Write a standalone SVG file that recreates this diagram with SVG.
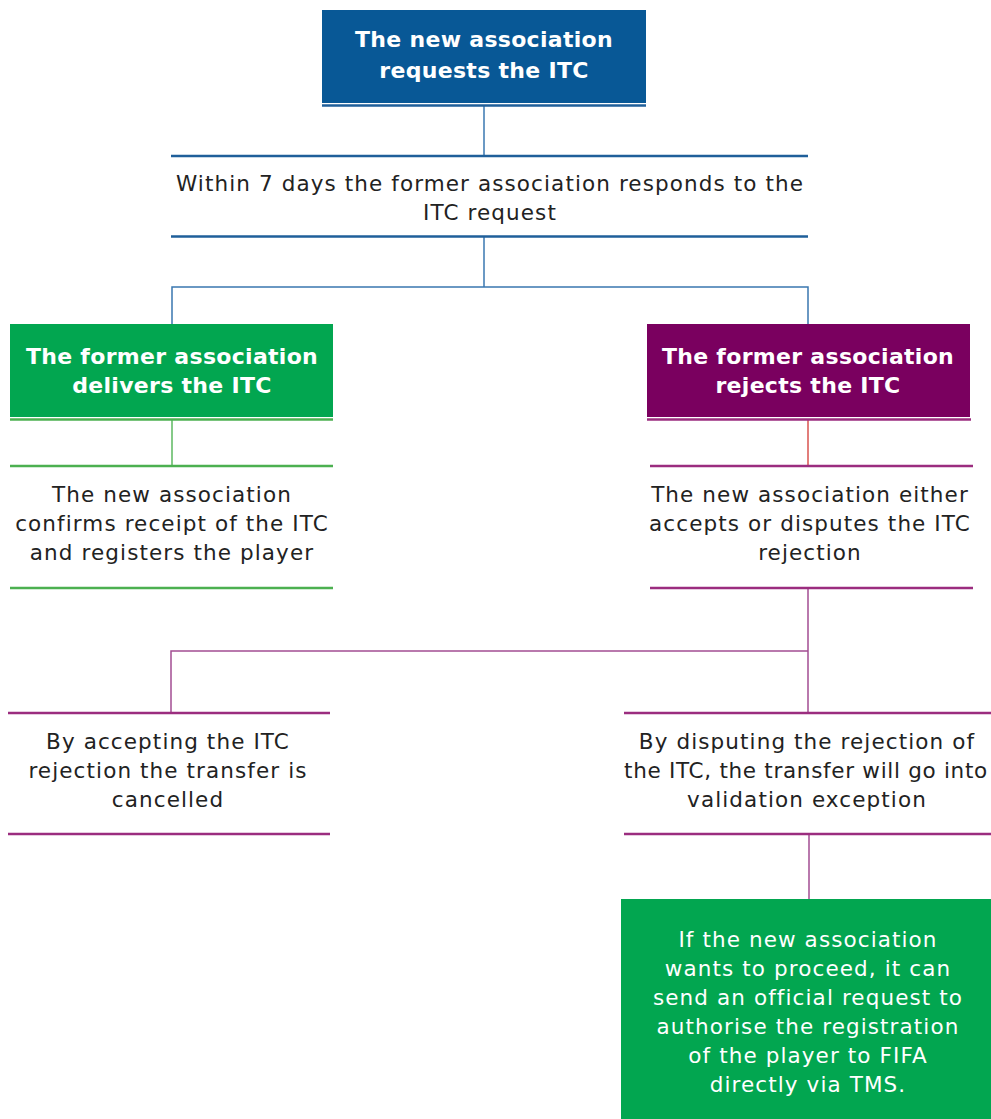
<svg xmlns="http://www.w3.org/2000/svg" width="991" height="1119" viewBox="0 0 991 1119">
<style>
.hb{font-family:"DejaVu Sans","Liberation Sans",sans-serif;font-weight:700;font-size:22px;letter-spacing:0.3px;fill:#fff;text-anchor:middle}
.t{font-family:"DejaVu Sans","Liberation Sans",sans-serif;font-size:21.5px;letter-spacing:1.1px;fill:#222;text-anchor:middle}
.tw{font-family:"DejaVu Sans","Liberation Sans",sans-serif;font-size:21.5px;letter-spacing:1.1px;fill:#fff;text-anchor:middle}
.bl{stroke:#1f5f9a;stroke-width:2.5;fill:none}
.blt{stroke:#3a77b0;stroke-width:1.5;fill:none}
.gl{stroke:#4cb050;stroke-width:2.5;fill:none}
.glt{stroke:#5cb860;stroke-width:1.5;fill:none}
.pl{stroke:#9b2d7f;stroke-width:2.5;fill:none}
.plt{stroke:#a24d92;stroke-width:1.5;fill:none}
</style>
<g id="connectors">
<line class="blt" x1="484" y1="106" x2="484" y2="156"/>
<line class="blt" x1="484" y1="237" x2="484" y2="287"/>
<polyline class="blt" points="172,324 172,287 808,287 808,324"/>
<line class="glt" x1="172" y1="420" x2="172" y2="466"/>
<line stroke="#d9534f" stroke-width="1.5" x1="808" y1="420" x2="808" y2="466"/>
<line class="plt" x1="808" y1="589" x2="808" y2="713"/>
<polyline class="plt" points="171,713 171,651 808,651"/>
<line class="plt" x1="809" y1="835" x2="809" y2="899"/>
</g>
<g id="n1">
<rect x="322" y="10" width="324" height="93" fill="#085896"/>
<line class="bl" x1="322" y1="105.5" x2="646" y2="105.5"/>
<text class="hb" x="484" y="47">The new association</text>
<text class="hb" x="484" y="78">requests the ITC</text>
</g>
<g id="n2">
<line class="bl" x1="171" y1="156" x2="808" y2="156"/>
<text class="t" x="490" y="191">Within 7 days the former association responds to the</text>
<text class="t" x="490" y="220">ITC request</text>
<line class="bl" x1="171" y1="236.5" x2="808" y2="236.5"/>
</g>
<g id="n3">
<rect x="10" y="324" width="323" height="93" fill="#02a650"/>
<line class="gl" x1="10" y1="419.5" x2="333" y2="419.5"/>
<text class="hb" x="172" y="364">The former association</text>
<text class="hb" x="172" y="393">delivers the ITC</text>
</g>
<g id="n4">
<rect x="647" y="324" width="323" height="93" fill="#7a005f"/>
<line class="pl" x1="647" y1="419.5" x2="971" y2="419.5"/>
<text class="hb" x="808" y="364">The former association</text>
<text class="hb" x="808" y="393">rejects the ITC</text>
</g>
<g id="n5">
<line class="gl" x1="10" y1="466" x2="333" y2="466"/>
<text class="t" x="172" y="502">The new association</text>
<text class="t" x="172" y="531">confirms receipt of the ITC</text>
<text class="t" x="172" y="560">and registers the player</text>
<line class="gl" x1="10" y1="588" x2="333" y2="588"/>
</g>
<g id="n6">
<line class="pl" x1="650" y1="466" x2="973" y2="466"/>
<text class="t" x="810" y="502">The new association either</text>
<text class="t" x="810" y="531">accepts or disputes the ITC</text>
<text class="t" x="810" y="560">rejection</text>
<line class="pl" x1="650" y1="588" x2="973" y2="588"/>
</g>
<g id="n7">
<line class="pl" x1="8" y1="713" x2="330" y2="713"/>
<text class="t" x="168" y="749">By accepting the ITC</text>
<text class="t" x="168" y="778">rejection the transfer is</text>
<text class="t" x="168" y="807">cancelled</text>
<line class="pl" x1="8" y1="834" x2="330" y2="834"/>
</g>
<g id="n8">
<line class="pl" x1="624" y1="713" x2="991" y2="713"/>
<text class="t" x="807" y="749">By disputing the rejection of</text>
<text class="t" x="806" y="778" style="letter-spacing:0.7px">the ITC, the transfer will go into</text>
<text class="t" x="807" y="807">validation exception</text>
<line class="pl" x1="624" y1="834" x2="991" y2="834"/>
</g>
<g id="n9">
<rect x="621" y="899" width="370" height="220" fill="#02a650"/>
<text class="tw" x="808" y="947">If the new association</text>
<text class="tw" x="808" y="976">wants to proceed, it can</text>
<text class="tw" x="808" y="1005">send an official request to</text>
<text class="tw" x="808" y="1034">authorise the registration</text>
<text class="tw" x="808" y="1063">of the player to FIFA</text>
<text class="tw" x="808" y="1092">directly via TMS.</text>
</g>
</svg>
